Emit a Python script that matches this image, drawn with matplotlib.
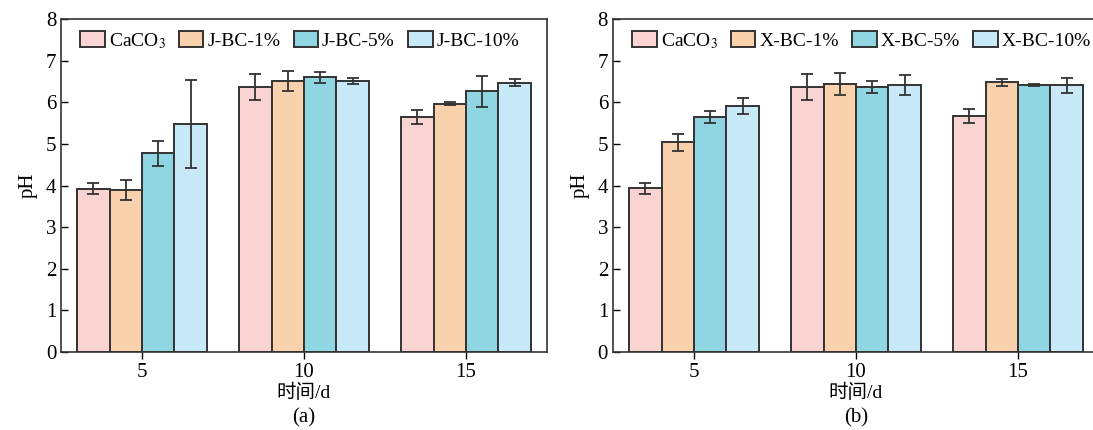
import numpy as np
import matplotlib
matplotlib.use('Agg')
import matplotlib.pyplot as plt

plt.rcParams['font.family'] = ['Liberation Serif', 'Noto Sans CJK SC']
plt.rcParams['mathtext.fontset'] = 'stix'

days = [5, 10, 15]
colors = ['#fad3d3', '#fad1ad', '#90d6e2', '#c7e9f8']

# 面板 (a): J-BC
labels_a = ['CaCO$_3$', 'J-BC-1%', 'J-BC-5%', 'J-BC-10%']
ph_a = [
    [3.92, 6.37, 5.65],
    [3.90, 6.50, 5.97],
    [4.78, 6.60, 6.26],
    [5.47, 6.51, 6.47],
]
err_a = [
    [0.13, 0.32, 0.17],
    [0.24, 0.24, 0.04],
    [0.30, 0.13, 0.37],
    [1.06, 0.08, 0.09],
]

# 面板 (b): X-BC
labels_b = ['CaCO$_3$', 'X-BC-1%', 'X-BC-5%', 'X-BC-10%']
ph_b = [
    [3.93, 6.37, 5.66],
    [5.04, 6.44, 6.48],
    [5.65, 6.36, 6.41],
    [5.91, 6.41, 6.41],
]
err_b = [
    [0.13, 0.31, 0.17],
    [0.20, 0.26, 0.09],
    [0.14, 0.14, 0.03],
    [0.19, 0.24, 0.18],
]


def draw_panel(ax, labels, vals, errs, tag):
    x = np.array(days, dtype=float)
    for i in range(4):
        ax.bar(x + (i - 1.5), vals[i], width=1.0, color=colors[i],
               edgecolor='#333333', linewidth=1.4, label=labels[i],
               yerr=errs[i], capsize=4.5,
               error_kw=dict(ecolor='#333333', elinewidth=1.3, capthick=1.3))
    ax.set_xlim(2.5, 17.5)
    ax.set_ylim(0, 8)
    ax.set_xticks(days)
    ax.set_yticks(range(9))
    ax.tick_params(axis='y', direction='in', length=5, labelsize=15, width=1)
    ax.tick_params(axis='x', direction='out', length=5, labelsize=15, width=1, pad=3)
    for s in ax.spines.values():
        s.set_linewidth(1.2)
        s.set_color('#333333')
    ax.set_ylabel('pH', fontsize=15, labelpad=6)
    ax.text(0.5, -0.124, '时间/d', transform=ax.transAxes, ha='center',
            va='center', fontsize=14)
    ax.text(0.5, -0.198, tag, transform=ax.transAxes, ha='center',
            va='center', fontsize=15)
    ax.legend(loc='upper left', ncol=4, frameon=False, fontsize=14,
              handlelength=1.25, handleheight=0.85, handletextpad=0.2,
              columnspacing=0.7, borderaxespad=0.3,
              bbox_to_anchor=(0.012, 1.005))


fig = plt.figure(figsize=(10.93, 4.30), dpi=100)
ax_a = fig.add_axes([0.0558, 0.1814, 0.4447, 0.7744])
ax_b = fig.add_axes([0.5608, 0.1814, 0.4447, 0.7744])

draw_panel(ax_a, labels_a, ph_a, err_a, '(a)')
draw_panel(ax_b, labels_b, ph_b, err_b, '(b)')

fig.savefig('out.png', dpi=100)
